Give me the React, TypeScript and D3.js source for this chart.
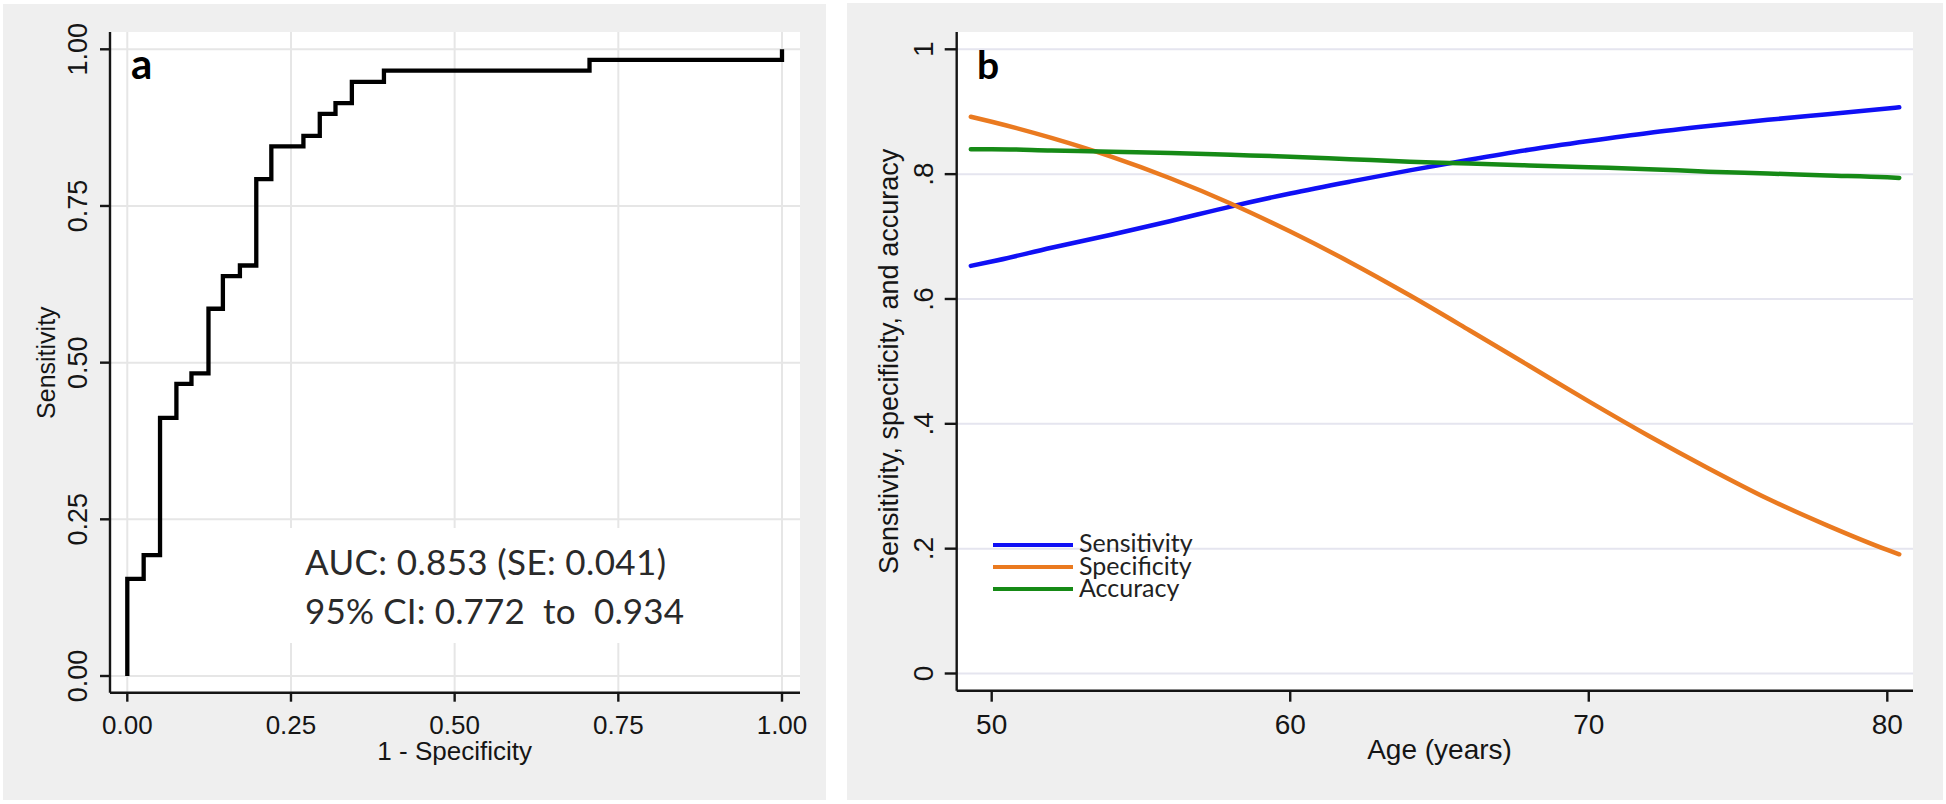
import React from 'react';
import * as d3 from 'd3';

// panel a: ROC operating points (1 - specificity, sensitivity)
const rocFpr = [0, 0, 0.025, 0.05, 0.075, 0.098, 0.124, 0.146, 0.172, 0.197, 0.22, 0.269, 0.294, 0.318, 0.343, 0.392, 0.706, 1.0, 1.0];
const rocTpr = [0, 0.155, 0.193, 0.412, 0.466, 0.483, 0.586, 0.638, 0.655, 0.793, 0.845, 0.862, 0.897, 0.914, 0.948, 0.966, 0.983, 0.983, 1.0];
const rocTicks = [0, 0.25, 0.5, 0.75, 1];
const aucLines = ['AUC: 0.853 (SE: 0.041)', '95% CI: 0.772  to  0.934'];

// panel b: metrics by age
const ages = [49.3, 50, 52, 54, 56, 58, 60, 62, 64, 66, 68, 70, 72, 74, 76, 78, 80, 80.4];
const sensitivity = [0.653, 0.66, 0.682, 0.703, 0.725, 0.748, 0.769, 0.788, 0.806, 0.823, 0.839, 0.853, 0.866, 0.877, 0.887, 0.896, 0.905, 0.907];
const specificity = [0.892, 0.884, 0.858, 0.828, 0.793, 0.753, 0.708, 0.659, 0.606, 0.55, 0.493, 0.436, 0.381, 0.329, 0.28, 0.237, 0.198, 0.191];
const accuracy = [0.84, 0.84, 0.838, 0.836, 0.834, 0.831, 0.828, 0.824, 0.82, 0.817, 0.814, 0.811, 0.808, 0.804, 0.801, 0.798, 0.795, 0.794];
const ageTicks = [50, 60, 70, 80];
const metricTicks = [0, 0.2, 0.4, 0.6, 0.8, 1];
const metricTickLabels = ['0', '.2', '.4', '.6', '.8', '1'];

const series = [
  { name: 'Sensitivity', values: sensitivity, color: '#1010f5' },
  { name: 'Specificity', values: specificity, color: '#ea7a20' },
  { name: 'Accuracy', values: accuracy, color: '#168a16' },
];

const ARIAL = '"Liberation Sans", Arial, sans-serif';
const CALIBRI = 'Lato, "Open Sans", sans-serif';
const INK = '#151515';

function PanelA() {
  const x = d3.scaleLinear().domain([0, 1]).range([127.3, 782]);
  const y = d3.scaleLinear().domain([0, 1]).range([676, 49.3]);
  const left = 110, right = 800, top = 32, bottom = 692.7;
  const pts = rocFpr.map((f, i) => [f, rocTpr[i]] as [number, number]);
  const line = d3.line<[number, number]>()
    .x(d => x(d[0]))
    .y(d => y(d[1]))
    .curve(d3.curveStepAfter);

  return (
    <g>
      <rect x={3} y={4} width={823} height={796} fill="#efefef" />
      <rect x={left} y={top} width={right - left} height={bottom - top} fill="#fff" />
      {rocTicks.map(t => (
        <g key={'g' + t}>
          <line x1={left} x2={right} y1={y(t)} y2={y(t)} stroke="#e6e6e6" strokeWidth={2} />
          <line x1={x(t)} x2={x(t)} y1={top} y2={bottom} stroke="#e6e6e6" strokeWidth={2} />
        </g>
      ))}
      {/* white box behind the AUC text */}
      <rect x={280} y={528} width={420} height={115} fill="#fff" />
      <path d={line(pts) || ''} fill="none" stroke="#000" strokeWidth={4.3} strokeLinejoin="miter" />
      {/* axes */}
      <line x1={left} x2={left} y1={top} y2={bottom} stroke={INK} strokeWidth={2.4} />
      <line x1={left} x2={right} y1={bottom} y2={bottom} stroke={INK} strokeWidth={2.4} />
      {rocTicks.map(t => (
        <g key={'t' + t}>
          <line x1={left - 10} x2={left} y1={y(t)} y2={y(t)} stroke={INK} strokeWidth={2.4} />
          <line x1={x(t)} x2={x(t)} y1={bottom} y2={bottom + 9} stroke={INK} strokeWidth={2.4} />
          <text x={x(t)} y={734} textAnchor="middle" fontFamily={ARIAL} fontSize={26} fill={INK}>
            {d3.format('.2f')(t)}
          </text>
          <text transform={`translate(87,${y(t)}) rotate(-90)`} textAnchor="middle" fontFamily={ARIAL} fontSize={27} fill={INK}>
            {d3.format('.2f')(t)}
          </text>
        </g>
      ))}
      <text x={x(0.5)} y={760} textAnchor="middle" fontFamily={ARIAL} fontSize={26} fill={INK}>1 - Specificity</text>
      <text transform={`translate(55,${y(0.5)}) rotate(-90)`} textAnchor="middle" fontFamily={ARIAL} fontSize={25} fill={INK}>Sensitivity</text>
      <text x={131} y={79} fontFamily={CALIBRI} fontWeight="bold" fontSize={42} fill="#000">a</text>
      <text x={305} y={575} fontFamily={CALIBRI} fontSize={35} fill="#2a2a2a" textLength={361} lengthAdjust="spacing" style={{ whiteSpace: 'pre' }}>{aucLines[0]}</text>
      <text x={305} y={624} fontFamily={CALIBRI} fontSize={35} fill="#2a2a2a" textLength={379} lengthAdjust="spacing" style={{ whiteSpace: 'pre' }}>{aucLines[1]}</text>
    </g>
  );
}

function PanelB() {
  const x = d3.scaleLinear().domain([50, 80]).range([991.7, 1887.3]);
  const y = d3.scaleLinear().domain([0, 1]).range([673.5, 49.3]);
  const left = 956.7, right = 1913, top = 32, bottom = 690.7;
  const line = d3.line<number>()
    .x((_, i) => x(ages[i]))
    .y(d => y(d))
    .curve(d3.curveMonotoneX);

  return (
    <g>
      <rect x={847} y={3} width={1096} height={797} fill="#efefef" />
      <rect x={left} y={top} width={right - left} height={bottom - top} fill="#fff" />
      {metricTicks.map(t => (
        <line key={'g' + t} x1={left} x2={right} y1={y(t)} y2={y(t)} stroke="#e5e5ef" strokeWidth={2} />
      ))}
      {series.map(s => (
        <path key={s.name} d={line(s.values) || ''} fill="none" stroke={s.color} strokeWidth={4.5} strokeLinecap="round" />
      ))}
      <line x1={left} x2={left} y1={top} y2={bottom} stroke={INK} strokeWidth={2.4} />
      <line x1={left} x2={right} y1={bottom} y2={bottom} stroke={INK} strokeWidth={2.4} />
      {metricTicks.map((t, i) => (
        <g key={'t' + t}>
          <line x1={left - 12} x2={left} y1={y(t)} y2={y(t)} stroke={INK} strokeWidth={2.4} />
          <text transform={`translate(933,${y(t)}) rotate(-90)`} textAnchor="middle" fontFamily={ARIAL} fontSize={28} fill={INK}>
            {metricTickLabels[i]}
          </text>
        </g>
      ))}
      {ageTicks.map(t => (
        <g key={'a' + t}>
          <line x1={x(t)} x2={x(t)} y1={bottom} y2={bottom + 11} stroke={INK} strokeWidth={2.4} />
          <text x={x(t)} y={734} textAnchor="middle" fontFamily={ARIAL} fontSize={28} fill={INK}>{t}</text>
        </g>
      ))}
      <text x={x(65)} y={759} textAnchor="middle" fontFamily={ARIAL} fontSize={28} fill={INK}>Age (years)</text>
      <text transform={`translate(898,${y(0.5)}) rotate(-90)`} textAnchor="middle" fontFamily={ARIAL} fontSize={27} fill={INK}>
        Sensitivity, specificity, and accuracy
      </text>
      <text x={977} y={79} fontFamily={CALIBRI} fontWeight="bold" fontSize={39} fill="#000">b</text>
      {series.map((s, i) => (
        <g key={'l' + s.name}>
          <line x1={993} x2={1073} y1={545 + i * 22} y2={545 + i * 22} stroke={s.color} strokeWidth={4} />
          <text x={1079} y={552 + i * 22.5} fontFamily={CALIBRI} fontSize={25} fill="#222">{s.name}</text>
        </g>
      ))}
    </g>
  );
}

export default function App() {
  return (
    <svg width={1946} height={804} style={{ position: 'absolute', left: 0, top: 0, background: '#fff' }}>
      <rect x={0} y={0} width={1946} height={804} fill="#fff" />
      <PanelA />
      <PanelB />
    </svg>
  );
}
